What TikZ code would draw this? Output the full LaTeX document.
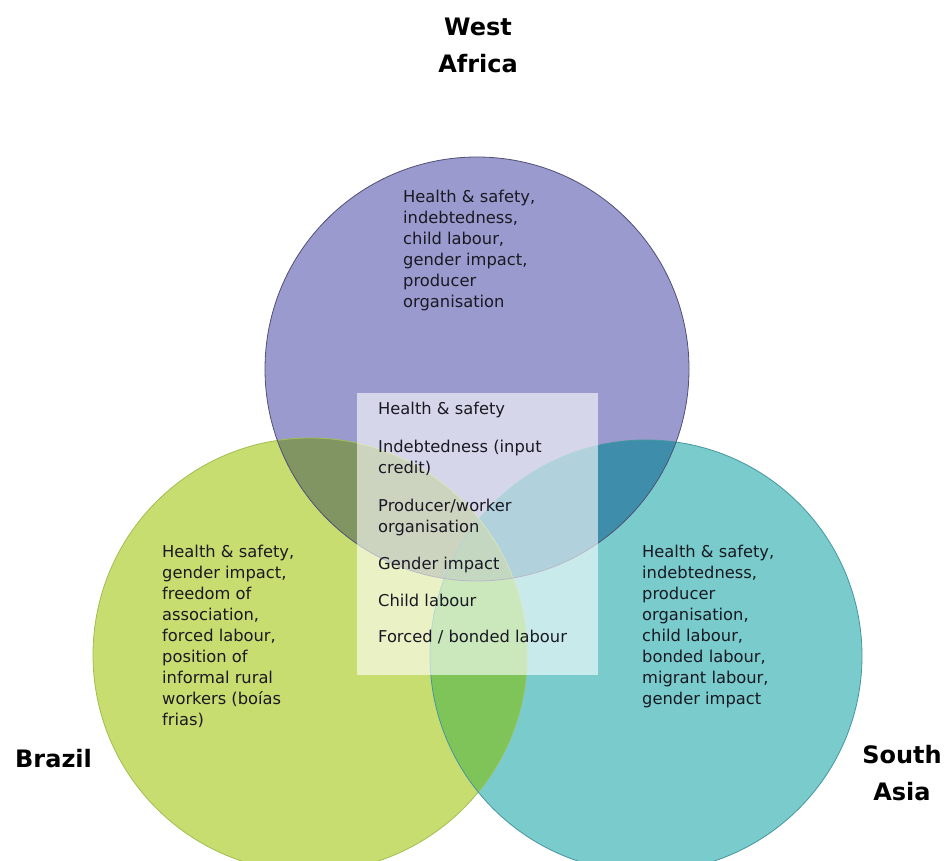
\documentclass[tikz,border=0pt]{standalone}
\usepackage{fontspec}
\setmainfont{DejaVu Sans}
\definecolor{topc}{RGB}{154,154,206}
\definecolor{leftc}{RGB}{200,221,112}
\definecolor{rightc}{RGB}{122,203,204}
\definecolor{tlc}{RGB}{128,149,98}
\definecolor{trc}{RGB}{62,141,170}
\definecolor{lrc}{RGB}{126,196,88}
\definecolor{triplec}{RGB}{105,155,100}
\definecolor{topedge}{RGB}{80,80,120}
\definecolor{leftedge}{RGB}{160,190,80}
\definecolor{rightedge}{RGB}{70,150,160}
\definecolor{textc}{RGB}{25,25,35}
\tikzset{
  body/.style={font=\fontsize{16.3}{21}\selectfont, align=left, anchor=north west, inner sep=0pt, text=textc},
  region/.style={font=\fontsize{24}{37}\selectfont\bfseries, align=center, inner sep=0pt, text=black},
  edge/.style={line width=0.8pt}
}
\begin{document}
\begin{tikzpicture}[x=1pt,y=-1pt]
\useasboundingbox (0,0) rectangle (948,861);
\fill[white] (0,0) rectangle (948,861);
\coordinate (ct) at (477,369);
\coordinate (cl) at (310,655);
\coordinate (cr) at (646,656);
% circle fills
\fill[topc] (ct) circle[radius=212pt];
\fill[leftc] (cl) circle[radius=217pt];
\fill[rightc] (cr) circle[radius=216pt];
% pairwise overlaps
\begin{scope}
  \clip (ct) circle[radius=212pt];
  \fill[tlc] (cl) circle[radius=217pt];
  \fill[trc] (cr) circle[radius=216pt];
\end{scope}
\begin{scope}
  \clip (cl) circle[radius=217pt];
  \fill[lrc] (cr) circle[radius=216pt];
\end{scope}
\begin{scope}
  \clip (ct) circle[radius=212pt];
  \clip (cl) circle[radius=217pt];
  \fill[triplec] (cr) circle[radius=216pt];
\end{scope}
% outlines
\draw[edge, leftedge] (cl) circle[radius=217pt];
\draw[edge, rightedge] (cr) circle[radius=216pt];
\draw[edge, topedge] (ct) circle[radius=212pt];
% central box
\fill[white, opacity=0.6] (357,393) rectangle (598,675);
% texts
\node[body] (ttop) at (403,190) {Health \& safety,\\indebtedness,\\child labour,\\gender impact,\\producer\\organisation};
\node[body] (tleft) at (162,545) {Health \& safety,\\gender impact,\\freedom of\\association,\\forced labour,\\position of\\informal rural\\workers (boías\\frias)};
\node[body] (tright) at (642,545) {Health \& safety,\\indebtedness,\\producer\\organisation,\\child labour,\\bonded labour,\\migrant labour,\\gender impact};
\node[body] (tmid) at (378,402) {Health \& safety\\[17pt]Indebtedness (input\\credit)\\[17pt]Producer/worker\\organisation\\[16pt]Gender impact\\[16pt]Child labour\\[15pt]Forced / bonded labour};
% region labels
\node[region, anchor=north] (lwa) at (478,18) {West\\Africa};
\node[region, anchor=base west] (lbr) at (15,767) {Brazil};
\node[region, anchor=north] (lsa) at (902,745) {South\\Asia};
\end{tikzpicture}
\end{document}
